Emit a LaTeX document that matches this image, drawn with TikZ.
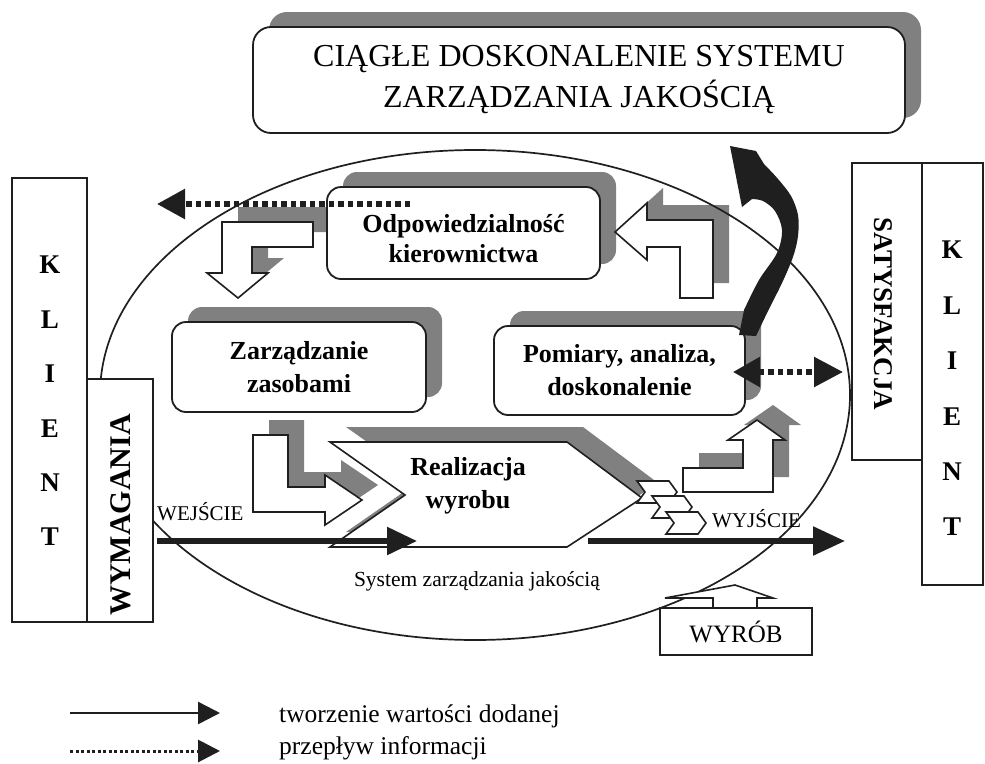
\documentclass[tikz,border=0pt]{standalone}
\usepackage{fontspec}
\setmainfont{Liberation Serif}
\usetikzlibrary{shadows,arrows.meta}
\definecolor{ink}{gray}{0.12}
\definecolor{shad}{gray}{0.5}
\begin{document}
\begin{tikzpicture}[x=1pt,y=-1pt,
  outline/.style={draw=ink, line width=1.8pt},
  rbox/.style={outline, fill=white, rounded corners=14pt, align=center, inner sep=0pt,
     general shadow={fill=shad, shadow xshift=16pt, shadow yshift=15pt}},
  sqbox/.style={outline, fill=white, inner sep=0pt},
  boxfont/.style={font=\fontsize{26}{33}\selectfont\bfseries},
  lab/.style={inner sep=0pt},
  hollow/.style={outline, line width=1.6pt, fill=white, line join=miter},
  shd/.style={fill=shad, shift={(16,-15)}},
  valuearrow/.style={draw=ink, line width=5.5pt, -{Triangle[length=30pt,width=27pt]}},
  infoarrow/.style={draw=ink, line width=5.5pt, dash pattern=on 5.5pt off 4pt, -{Triangle[length=28pt,width=29pt]}},
]
\useasboundingbox (0,0) rectangle (985,763);
\fill[white] (0,0) rectangle (985,763);

% shadows of the hollow arrows
\fill[shd] (313,222) -- (222,222) -- (222,273) -- (207,273) -- (238,298) -- (268,273) -- (252,273) -- (252,247) -- (313,247) -- cycle;
\fill[shd] (615,232) -- (647,203) -- (647,220) -- (713,220) -- (713,298) -- (680,298) -- (680,247) -- (647,247) -- (647,260) -- cycle;
\fill[shd] (253,435) -- (288,435) -- (288,487) -- (325,487) -- (325,475) -- (362,500) -- (325,525) -- (325,512) -- (253,512) -- cycle;
\fill[shd] (330,442) -- (567,442) -- (642,498) -- (567,547) -- (330,547) -- (405,495) -- cycle;
\fill[shd] (683,492) -- (683,468) -- (743,468) -- (743,440) -- (728,440) -- (757,420) -- (785,440) -- (773,440) -- (773,492) -- cycle;

% system ellipse
\draw[ink, line width=1.7pt] (475,395) ellipse [x radius=375, y radius=245];

% title
\node[rbox, rounded corners=18pt, minimum width=652pt, minimum height=106pt, font=\fontsize{32}{41}\selectfont] (title) at (579,80) {CIĄGŁE DOSKONALENIE SYSTEMU\\ZARZĄDZANIA JAKOŚCIĄ};

% client boxes
\node[sqbox, minimum width=75pt, minimum height=444pt] (klientL) at (49.5,400) {};
\node[sqbox, minimum width=66pt, minimum height=243pt] (wymag) at (120,500.5) {};
\node[lab, rotate=90, font=\fontsize{30}{30}\selectfont\bfseries] (wymagT) at (121,515) {WYMAGANIA};
\node[lab, align=center, font=\fontsize{27}{54.4}\selectfont\bfseries] (klientLT) at (50,401) {K\\L\\I\\E\\N\\T};

\node[sqbox, minimum width=70pt, minimum height=297pt] (satys) at (887,311.5) {};
\node[sqbox, minimum width=61pt, minimum height=422pt] (klientR) at (952.5,374) {};
\node[lab, rotate=-90, font=\fontsize{27}{27}\selectfont\bfseries] (satysT) at (883,314) {SATYSFAKCJA};
\node[lab, align=center, font=\fontsize{27}{55.4}\selectfont\bfseries] (klientRT) at (952,388.5) {K\\L\\I\\E\\N\\T};

% process boxes
\node[rbox, minimum width=273pt, minimum height=92pt,
  label={[lab, align=center, font=\fontsize{26}{30}\selectfont\bfseries, yshift=-6pt]center:Odpowiedzialność\\kierownictwa}] (odp) at (463.5,233) {};
\node[rbox, boxfont, minimum width=254pt, minimum height=90pt] (zas) at (299,367) {Zarządzanie\\zasobami};
\node[rbox, boxfont, minimum width=251pt, minimum height=89pt] (pom) at (619.5,370.5) {Pomiary, analiza,\\doskonalenie};

% hollow arrows
\draw[hollow] (313,222) -- (222,222) -- (222,273) -- (207,273) -- (238,298) -- (268,273) -- (252,273) -- (252,247) -- (313,247) -- cycle;
\draw[hollow] (615,232) -- (647,203) -- (647,220) -- (713,220) -- (713,298) -- (680,298) -- (680,247) -- (647,247) -- (647,260) -- cycle;
\draw[hollow] (253,435) -- (288,435) -- (288,487) -- (325,487) -- (325,475) -- (362,500) -- (325,525) -- (325,512) -- (253,512) -- cycle;
\draw[hollow] (330,442) -- (567,442) -- (642,498) -- (567,547) -- (330,547) -- (405,495) -- cycle;
\draw[hollow] (683,492) -- (683,468) -- (743,468) -- (743,440) -- (728,440) -- (757,420) -- (785,440) -- (773,440) -- (773,492) -- cycle;
\foreach \dx/\dy in {637/481, 652/496, 666/512}
  \draw[hollow, shift={(\dx,\dy)}] (0,0) -- (32,0) -- (40,11) -- (32,22) -- (0,22) -- (8,11) -- cycle;

\node[lab, boxfont, align=center] (real) at (468,486) {Realizacja\\wyrobu};

% product box
\node[sqbox, minimum width=152pt, minimum height=47pt, font=\fontsize{25}{25}\selectfont] (wyrob) at (736,631.5) {WYRÓB};
\draw[hollow] (713,608) -- (713,598) -- (665,598) -- (735,585) -- (773,598) -- (757,598) -- (757,608) -- cycle;

% improvement arrow
\fill[ink] (739,335)
  -- plot[smooth, tension=0.55] coordinates {(744,310) (759,280) (777,253) (782,230) (775,211) (763,201) (752,199)}
  -- (742,207) -- (730,146) -- (756,151)
  -- plot[smooth, tension=0.55] coordinates {(764,164) (778,179) (791,196) (798,215) (798,236) (793,257) (782,283) (769,309) (756,336)}
  -- cycle;

% value flow arrows
\coordinate (in0) at (157,541); \coordinate (in1) at (417,541);
\draw[valuearrow] (in0) -- (in1);
\coordinate (out0) at (588,541); \coordinate (out1) at (845,541);
\draw[valuearrow, -{Triangle[length=32pt,width=28pt]}] (out0) -- (out1);

% information arrows
\coordinate (i0) at (410,204); \coordinate (i1) at (157,204);
\draw[infoarrow] (i0) -- (i1);
\coordinate (j0) at (733,372); \coordinate (j1) at (843,372);
\draw[infoarrow, {Triangle[length=27pt,width=29pt]}-{Triangle[length=29pt,width=29pt]}] (j0) -- (j1);

% labels
\node[lab, anchor=base west, font=\fontsize{21}{21}\selectfont] (wej) at (157,520) {WEJŚCIE};
\node[lab, anchor=base west, font=\fontsize{21}{21}\selectfont] (wyj) at (712,527) {WYJŚCIE};
\node[lab, anchor=base, font=\fontsize{21.5}{21.5}\selectfont] (szj) at (477,586) {System zarządzania jakością};

% legend
\coordinate (l1a) at (70,713); \coordinate (l1b) at (220,713);
\draw[draw=ink, line width=2.5pt, -{Triangle[length=22pt,width=22pt]}] (l1a) -- (l1b);
\coordinate (l2a) at (70,751); \coordinate (l2b) at (220,751);
\draw[draw=ink, line width=3pt, dash pattern=on 3pt off 2.5pt, -{Triangle[length=22pt,width=22pt]}] (l2a) -- (l2b);
\node[lab, anchor=base west, font=\fontsize{25.5}{25.5}\selectfont] (lt1) at (279,722) {tworzenie wartości dodanej};
\node[lab, anchor=base west, font=\fontsize{25.5}{25.5}\selectfont] (lt2) at (279,754) {przepływ informacji};
\end{tikzpicture}
\end{document}
